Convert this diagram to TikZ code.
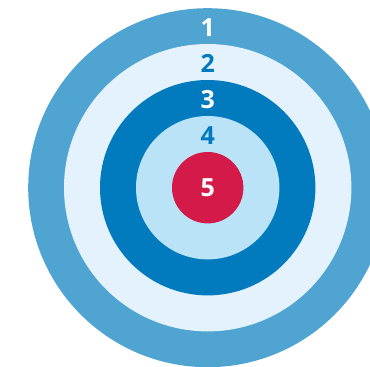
\documentclass[tikz,border=0pt]{standalone}
\usepackage{fontspec}
\setmainfont{Open Sans}
\definecolor{ringA}{HTML}{4FA4D2}
\definecolor{ringB}{HTML}{E3F2FC}
\definecolor{ringC}{HTML}{027BBE}
\definecolor{ringD}{HTML}{BBE3F8}
\definecolor{bull}{HTML}{D31A48}
\begin{document}
\begin{tikzpicture}[x=1pt,y=1pt,
  ring/.style={circle,inner sep=0pt,outer sep=0pt,draw=none},
  num/.style={font=\fontsize{25}{25}\selectfont\bfseries,inner sep=0pt,anchor=center}]
\useasboundingbox (0,0) rectangle (370,367);
\begin{scope}
\clip (0,0) rectangle (370,367);
\coordinate (c) at (207.7,179.3);
\node[ring,fill=ringA,minimum size=359] (r1) at (c) {};
\node[ring,fill=ringB,minimum size=287.4] (r2) at (c) {};
\node[ring,fill=ringC,minimum size=215.4] (r3) at (c) {};
\node[ring,fill=ringD,minimum size=143.4] (r4) at (c) {};
\node[ring,fill=bull,minimum size=71.4] (r5) at (c) {};
\end{scope}
\node[num,text=white] (l1) at (207.7,339.5) {1};
\node[num,text=ringC] (l2) at (207.7,303.5) {2};
\node[num,text=white] (l3) at (207.7,267.5) {3};
\node[num,text=ringC] (l4) at (207.7,231.5) {4};
\node[num,text=white] (l5) at (207.7,179.3) {5};
\end{tikzpicture}
\end{document}
